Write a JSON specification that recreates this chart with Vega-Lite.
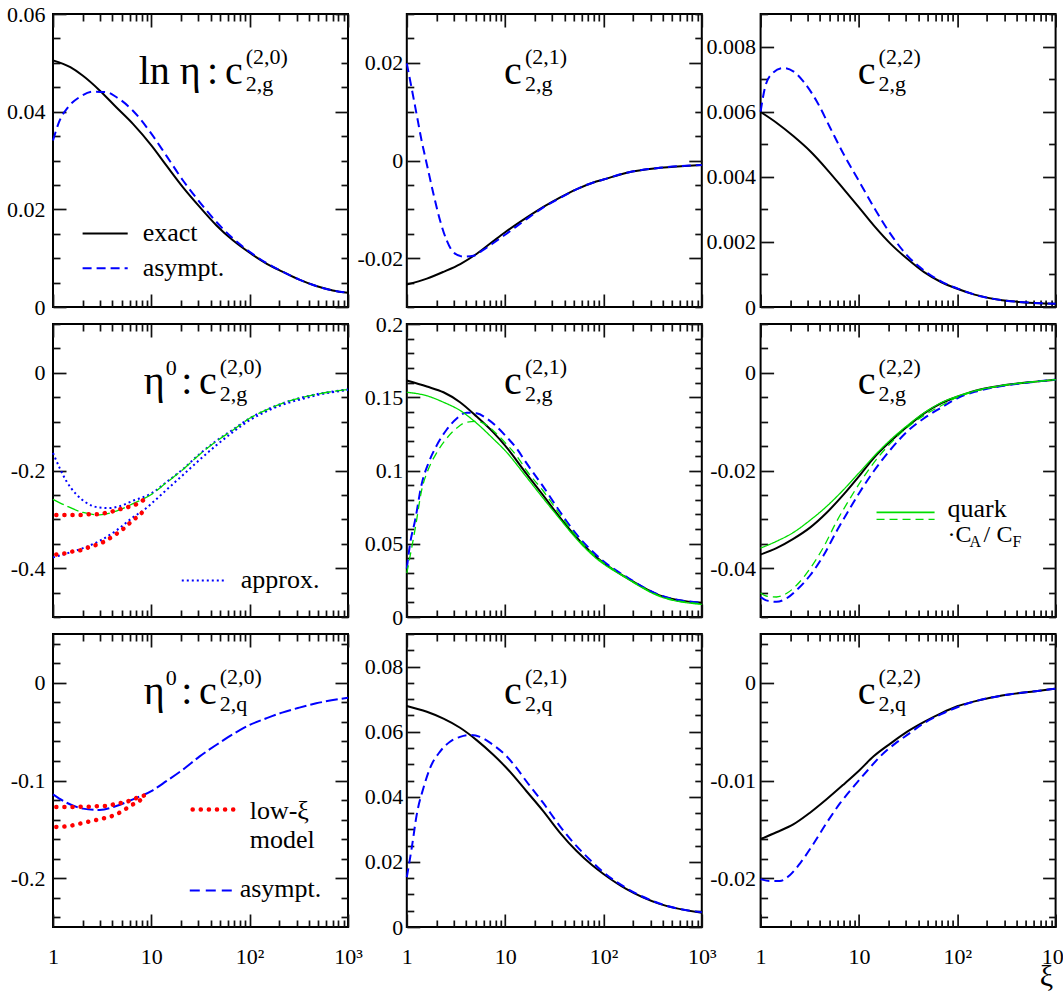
{
  "$schema": "https://vega.github.io/schema/vega-lite/v6.json",
  "usermeta": {"embedOptions": {"actions": false}},
  "background": "white",
  "padding": {"left": 5, "top": 2, "right": 0, "bottom": 0},
  "columns": 3,
  "bounds": "flush",
  "spacing": {"row": 17, "column": 58.8},
  "config": {
    "view": {"stroke": "black", "strokeWidth": 2},
    "axis": {"domain": false, "grid": false, "labelFont": "Liberation Serif", "labelFontSize": 22, "labelColor": "black", "labelOverlap": false, "labelFlush": false, "titleFont": "Liberation Serif", "titleFontWeight": "normal", "titleColor": "black"},
    "text": {"font": "Liberation Serif", "color": "black", "baseline": "alphabetic"},
    "line": {"interpolate": "monotone", "clip": true}
  },
  "data": {"values": [
    {"panel":1,"curve":"exact","xi":1,"c":0.0505},{"panel":1,"curve":"exact","xi":1.5,"c":0.0491},{"panel":1,"curve":"exact","xi":2,"c":0.0474},{"panel":1,"curve":"exact","xi":3,"c":0.0443},{"panel":1,"curve":"exact","xi":4.4,"c":0.0409},{"panel":1,"curve":"exact","xi":6.5,"c":0.0375},{"panel":1,"curve":"exact","xi":10,"c":0.0331},{"panel":1,"curve":"exact","xi":14.2,"c":0.029},{"panel":1,"curve":"exact","xi":21,"c":0.0245},{"panel":1,"curve":"exact","xi":31,"c":0.0205},{"panel":1,"curve":"exact","xi":46,"c":0.0167},{"panel":1,"curve":"exact","xi":68,"c":0.0136},{"panel":1,"curve":"exact","xi":100,"c":0.0111},{"panel":1,"curve":"exact","xi":148,"c":0.0089},{"panel":1,"curve":"exact","xi":218,"c":0.0072},{"panel":1,"curve":"exact","xi":320,"c":0.0056},{"panel":1,"curve":"exact","xi":475,"c":0.0043},{"panel":1,"curve":"exact","xi":700,"c":0.0034},{"panel":1,"curve":"exact","xi":1000,"c":0.0029},
    {"panel":1,"curve":"asympt","xi":1,"c":0.0341},{"panel":1,"curve":"asympt","xi":1.17,"c":0.0382},{"panel":1,"curve":"asympt","xi":1.42,"c":0.0409},{"panel":1,"curve":"asympt","xi":1.87,"c":0.043},{"panel":1,"curve":"asympt","xi":2.55,"c":0.0441},{"panel":1,"curve":"asympt","xi":3.5,"c":0.044},{"panel":1,"curve":"asympt","xi":4.4,"c":0.043},{"panel":1,"curve":"asympt","xi":6.5,"c":0.0402},{"panel":1,"curve":"asympt","xi":10,"c":0.0355},{"panel":1,"curve":"asympt","xi":14.2,"c":0.031},{"panel":1,"curve":"asympt","xi":21,"c":0.0259},{"panel":1,"curve":"asympt","xi":31,"c":0.0215},{"panel":1,"curve":"asympt","xi":46,"c":0.0174},{"panel":1,"curve":"asympt","xi":68,"c":0.014},{"panel":1,"curve":"asympt","xi":100,"c":0.0113},{"panel":1,"curve":"asympt","xi":148,"c":0.009},{"panel":1,"curve":"asympt","xi":218,"c":0.0072},{"panel":1,"curve":"asympt","xi":320,"c":0.0056},{"panel":1,"curve":"asympt","xi":475,"c":0.0043},{"panel":1,"curve":"asympt","xi":700,"c":0.0034},{"panel":1,"curve":"asympt","xi":1000,"c":0.0029},

    {"panel":2,"curve":"exact","xi":1,"c":-0.0254},{"panel":2,"curve":"exact","xi":1.6,"c":-0.0242},{"panel":2,"curve":"exact","xi":2.36,"c":-0.0228},{"panel":2,"curve":"exact","xi":3.5,"c":-0.0212},{"panel":2,"curve":"exact","xi":5.15,"c":-0.0191},{"panel":2,"curve":"exact","xi":7.6,"c":-0.0165},{"panel":2,"curve":"exact","xi":10,"c":-0.0147},{"panel":2,"curve":"exact","xi":16.5,"c":-0.0117},{"panel":2,"curve":"exact","xi":24.5,"c":-0.0095},{"panel":2,"curve":"exact","xi":36,"c":-0.0076},{"panel":2,"curve":"exact","xi":53,"c":-0.0059},{"panel":2,"curve":"exact","xi":79,"c":-0.0045},{"panel":2,"curve":"exact","xi":100,"c":-0.0039},{"panel":2,"curve":"exact","xi":173,"c":-0.0025},{"panel":2,"curve":"exact","xi":375,"c":-0.0015},{"panel":2,"curve":"exact","xi":1000,"c":-0.0009},
    {"panel":2,"curve":"asympt","xi":1,"c":0.0199},{"panel":2,"curve":"asympt","xi":1.12,"c":0.0148},{"panel":2,"curve":"asympt","xi":1.26,"c":0.0094},{"panel":2,"curve":"asympt","xi":1.42,"c":0.0039},{"panel":2,"curve":"asympt","xi":1.6,"c":-0.0008},{"panel":2,"curve":"asympt","xi":1.87,"c":-0.0069},{"panel":2,"curve":"asympt","xi":2.18,"c":-0.0123},{"panel":2,"curve":"asympt","xi":2.55,"c":-0.0164},{"panel":2,"curve":"asympt","xi":2.98,"c":-0.0188},{"panel":2,"curve":"asympt","xi":3.77,"c":-0.0197},{"panel":2,"curve":"asympt","xi":4.77,"c":-0.0195},{"panel":2,"curve":"asympt","xi":6,"c":-0.0183},{"panel":2,"curve":"asympt","xi":7.6,"c":-0.0169},{"panel":2,"curve":"asympt","xi":10,"c":-0.0152},{"panel":2,"curve":"asympt","xi":16.5,"c":-0.012},{"panel":2,"curve":"asympt","xi":24.5,"c":-0.0096},{"panel":2,"curve":"asympt","xi":36,"c":-0.0077},{"panel":2,"curve":"asympt","xi":53,"c":-0.0059},{"panel":2,"curve":"asympt","xi":79,"c":-0.0045},{"panel":2,"curve":"asympt","xi":100,"c":-0.0039},{"panel":2,"curve":"asympt","xi":173,"c":-0.0025},{"panel":2,"curve":"asympt","xi":375,"c":-0.0015},{"panel":2,"curve":"asympt","xi":1000,"c":-0.0009},

    {"panel":3,"curve":"exact","xi":1,"c":0.00599},{"panel":3,"curve":"exact","xi":1.45,"c":0.00566},{"panel":3,"curve":"exact","xi":2.15,"c":0.00525},{"panel":3,"curve":"exact","xi":3.18,"c":0.00479},{"panel":3,"curve":"exact","xi":4.72,"c":0.00423},{"panel":3,"curve":"exact","xi":7,"c":0.00362},{"panel":3,"curve":"exact","xi":10,"c":0.00306},{"panel":3,"curve":"exact","xi":14.2,"c":0.0025},{"panel":3,"curve":"exact","xi":21,"c":0.00194},{"panel":3,"curve":"exact","xi":31,"c":0.00148},{"panel":3,"curve":"exact","xi":46,"c":0.00107},{"panel":3,"curve":"exact","xi":69,"c":0.00076},{"panel":3,"curve":"exact","xi":100,"c":0.00056},{"panel":3,"curve":"exact","xi":150,"c":0.00038},{"panel":3,"curve":"exact","xi":285,"c":0.00021},{"panel":3,"curve":"exact","xi":1000,"c":0.0001},
    {"panel":3,"curve":"asympt","xi":1,"c":0.006},{"panel":3,"curve":"asympt","xi":1.1,"c":0.0067},{"panel":3,"curve":"asympt","xi":1.29,"c":0.00715},{"panel":3,"curve":"asympt","xi":1.7,"c":0.00734},{"panel":3,"curve":"asympt","xi":2.15,"c":0.00724},{"panel":3,"curve":"asympt","xi":2.72,"c":0.00693},{"panel":3,"curve":"asympt","xi":3.72,"c":0.00632},{"panel":3,"curve":"asympt","xi":5.11,"c":0.0055},{"panel":3,"curve":"asympt","xi":7,"c":0.00469},{"panel":3,"curve":"asympt","xi":10,"c":0.00387},{"panel":3,"curve":"asympt","xi":14.2,"c":0.00306},{"panel":3,"curve":"asympt","xi":21,"c":0.00224},{"panel":3,"curve":"asympt","xi":31,"c":0.00158},{"panel":3,"curve":"asympt","xi":46,"c":0.00112},{"panel":3,"curve":"asympt","xi":69,"c":0.00078},{"panel":3,"curve":"asympt","xi":100,"c":0.00057},{"panel":3,"curve":"asympt","xi":150,"c":0.00038},{"panel":3,"curve":"asympt","xi":285,"c":0.00021},{"panel":3,"curve":"asympt","xi":1000,"c":0.0001},

    {"panel":4,"curve":"approx","xi":1,"c":-0.164},{"panel":4,"curve":"approx","xi":1.17,"c":-0.195},{"panel":4,"curve":"approx","xi":1.37,"c":-0.222},{"panel":4,"curve":"approx","xi":1.73,"c":-0.249},{"panel":4,"curve":"approx","xi":2.18,"c":-0.266},{"panel":4,"curve":"approx","xi":2.98,"c":-0.276},{"panel":4,"curve":"approx","xi":3.77,"c":-0.277},{"panel":4,"curve":"approx","xi":4.77,"c":-0.273},{"panel":4,"curve":"approx","xi":6.5,"c":-0.262},{"panel":4,"curve":"approx","xi":10,"c":-0.247},{"panel":4,"curve":"approx","xi":14.2,"c":-0.224},{"panel":4,"curve":"approx","xi":21,"c":-0.197},{"panel":4,"curve":"approx","xi":31,"c":-0.166},{"panel":4,"curve":"approx","xi":46,"c":-0.139},{"panel":4,"curve":"approx","xi":68,"c":-0.116},{"panel":4,"curve":"approx","xi":100,"c":-0.093},{"panel":4,"curve":"approx","xi":148,"c":-0.076},{"panel":4,"curve":"approx","xi":218,"c":-0.062},{"panel":4,"curve":"approx","xi":320,"c":-0.052},{"panel":4,"curve":"approx","xi":475,"c":-0.044},{"panel":4,"curve":"approx","xi":1000,"c":-0.034},
    {"panel":4,"curve":"approx2","xi":1,"c":-0.378},{"panel":4,"curve":"approx2","xi":1.37,"c":-0.37},{"panel":4,"curve":"approx2","xi":2.02,"c":-0.359},{"panel":4,"curve":"approx2","xi":2.98,"c":-0.344},{"panel":4,"curve":"approx2","xi":4.4,"c":-0.323},{"panel":4,"curve":"approx2","xi":6.5,"c":-0.296},{"panel":4,"curve":"approx2","xi":8.9,"c":-0.277},{"panel":4,"curve":"approx2","xi":10,"c":-0.268},{"panel":4,"curve":"approx2","xi":14.2,"c":-0.24},{"panel":4,"curve":"approx2","xi":21,"c":-0.209},{"panel":4,"curve":"approx2","xi":31,"c":-0.178},{"panel":4,"curve":"approx2","xi":46,"c":-0.148},{"panel":4,"curve":"approx2","xi":68,"c":-0.121},{"panel":4,"curve":"approx2","xi":100,"c":-0.097},{"panel":4,"curve":"approx2","xi":148,"c":-0.079},{"panel":4,"curve":"approx2","xi":218,"c":-0.065},{"panel":4,"curve":"approx2","xi":320,"c":-0.055},{"panel":4,"curve":"approx2","xi":475,"c":-0.046},{"panel":4,"curve":"approx2","xi":1000,"c":-0.035},
    {"panel":4,"curve":"quarkCAL","xi":1,"c":-0.259},{"panel":4,"curve":"quarkCAL","xi":1.37,"c":-0.2725},{"panel":4,"curve":"quarkCAL","xi":2.02,"c":-0.286},{"panel":4,"curve":"quarkCAL","xi":2.98,"c":-0.291},{"panel":4,"curve":"quarkCAL","xi":4.4,"c":-0.283},{"panel":4,"curve":"quarkCAL","xi":6.5,"c":-0.268},{"panel":4,"curve":"quarkCAL","xi":10,"c":-0.249},{"panel":4,"curve":"quarkCAL","xi":14.2,"c":-0.225},{"panel":4,"curve":"quarkCAL","xi":21,"c":-0.198},{"panel":4,"curve":"quarkCAL","xi":31,"c":-0.167},{"panel":4,"curve":"quarkCAL","xi":46,"c":-0.14},{"panel":4,"curve":"quarkCAL","xi":68,"c":-0.117},{"panel":4,"curve":"quarkCAL","xi":100,"c":-0.093},{"panel":4,"curve":"quarkCAL","xi":148,"c":-0.076},{"panel":4,"curve":"quarkCAL","xi":218,"c":-0.062},{"panel":4,"curve":"quarkCAL","xi":320,"c":-0.052},{"panel":4,"curve":"quarkCAL","xi":475,"c":-0.044},{"panel":4,"curve":"quarkCAL","xi":1000,"c":-0.034},
    {"panel":4,"curve":"model","xi":1.08,"c":-0.291},{"panel":4,"curve":"model","xi":1.34,"c":-0.291},{"panel":4,"curve":"model","xi":1.62,"c":-0.291},{"panel":4,"curve":"model","xi":1.97,"c":-0.291},{"panel":4,"curve":"model","xi":2.4,"c":-0.2895},{"panel":4,"curve":"model","xi":2.94,"c":-0.2895},{"panel":4,"curve":"model","xi":3.54,"c":-0.286},{"panel":4,"curve":"model","xi":4.24,"c":-0.2827},{"panel":4,"curve":"model","xi":5.15,"c":-0.2773},{"panel":4,"curve":"model","xi":6.4,"c":-0.2725},{"panel":4,"curve":"model","xi":7.6,"c":-0.2658},{"panel":4,"curve":"model","xi":8.9,"c":-0.2556},
    {"panel":4,"curve":"model2","xi":1.08,"c":-0.372},{"panel":4,"curve":"model2","xi":1.34,"c":-0.3695},{"panel":4,"curve":"model2","xi":1.62,"c":-0.3654},{"panel":4,"curve":"model2","xi":1.97,"c":-0.3627},{"panel":4,"curve":"model2","xi":2.4,"c":-0.356},{"panel":4,"curve":"model2","xi":2.94,"c":-0.3505},{"panel":4,"curve":"model2","xi":3.54,"c":-0.3424},{"panel":4,"curve":"model2","xi":4.24,"c":-0.332},{"panel":4,"curve":"model2","xi":5.15,"c":-0.32},{"panel":4,"curve":"model2","xi":6.4,"c":-0.303},{"panel":4,"curve":"model2","xi":7.6,"c":-0.291},{"panel":4,"curve":"model2","xi":8.9,"c":-0.277},

    {"panel":5,"curve":"exact","xi":1,"c":0.1614},{"panel":5,"curve":"exact","xi":1.6,"c":0.1573},{"panel":5,"curve":"exact","xi":2.36,"c":0.1534},{"panel":5,"curve":"exact","xi":3.48,"c":0.1466},{"panel":5,"curve":"exact","xi":5.13,"c":0.1368},{"panel":5,"curve":"exact","xi":7.58,"c":0.126},{"panel":5,"curve":"exact","xi":10,"c":0.117},{"panel":5,"curve":"exact","xi":16.5,"c":0.0977},{"panel":5,"curve":"exact","xi":24.4,"c":0.083},{"panel":5,"curve":"exact","xi":36,"c":0.068},{"panel":5,"curve":"exact","xi":53,"c":0.0545},{"panel":5,"curve":"exact","xi":78,"c":0.043},{"panel":5,"curve":"exact","xi":100,"c":0.037},{"panel":5,"curve":"exact","xi":170,"c":0.027},{"panel":5,"curve":"exact","xi":372,"c":0.0148},{"panel":5,"curve":"exact","xi":1000,"c":0.0095},
    {"panel":5,"curve":"asympt","xi":1,"c":0.033},{"panel":5,"curve":"asympt","xi":1.08,"c":0.05},{"panel":5,"curve":"asympt","xi":1.215,"c":0.066},{"panel":5,"curve":"asympt","xi":1.42,"c":0.091},{"panel":5,"curve":"asympt","xi":1.66,"c":0.105},{"panel":5,"curve":"asympt","xi":2.01,"c":0.117},{"panel":5,"curve":"asympt","xi":2.55,"c":0.128},{"panel":5,"curve":"asympt","xi":3.22,"c":0.1355},{"panel":5,"curve":"asympt","xi":4.06,"c":0.1395},{"panel":5,"curve":"asympt","xi":5.13,"c":0.139},{"panel":5,"curve":"asympt","xi":6.48,"c":0.1355},{"panel":5,"curve":"asympt","xi":8.18,"c":0.13},{"panel":5,"curve":"asympt","xi":10,"c":0.124},{"panel":5,"curve":"asympt","xi":13.1,"c":0.115},{"panel":5,"curve":"asympt","xi":16.5,"c":0.105},{"panel":5,"curve":"asympt","xi":24.4,"c":0.089},{"panel":5,"curve":"asympt","xi":36,"c":0.072},{"panel":5,"curve":"asympt","xi":53,"c":0.0565},{"panel":5,"curve":"asympt","xi":78,"c":0.0445},{"panel":5,"curve":"asympt","xi":100,"c":0.038},{"panel":5,"curve":"asympt","xi":170,"c":0.0275},{"panel":5,"curve":"asympt","xi":372,"c":0.015},{"panel":5,"curve":"asympt","xi":1000,"c":0.0097},
    {"panel":5,"curve":"quark","xi":1,"c":0.1534},{"panel":5,"curve":"quark","xi":1.6,"c":0.151},{"panel":5,"curve":"quark","xi":2.36,"c":0.1466},{"panel":5,"curve":"quark","xi":3.48,"c":0.141},{"panel":5,"curve":"quark","xi":5.13,"c":0.1323},{"panel":5,"curve":"quark","xi":7.58,"c":0.1216},{"panel":5,"curve":"quark","xi":10,"c":0.1136},{"panel":5,"curve":"quark","xi":16.5,"c":0.0955},{"panel":5,"curve":"quark","xi":24.4,"c":0.081},{"panel":5,"curve":"quark","xi":36,"c":0.067},{"panel":5,"curve":"quark","xi":53,"c":0.0534},{"panel":5,"curve":"quark","xi":78,"c":0.042},{"panel":5,"curve":"quark","xi":170,"c":0.0266},{"panel":5,"curve":"quark","xi":372,"c":0.0141},{"panel":5,"curve":"quark","xi":1000,"c":0.0086},
    {"panel":5,"curve":"quarkCA","xi":1,"c":0.03},{"panel":5,"curve":"quarkCA","xi":1.215,"c":0.06},{"panel":5,"curve":"quarkCA","xi":1.42,"c":0.087},{"panel":5,"curve":"quarkCA","xi":1.66,"c":0.101},{"panel":5,"curve":"quarkCA","xi":2.01,"c":0.112},{"panel":5,"curve":"quarkCA","xi":2.55,"c":0.122},{"panel":5,"curve":"quarkCA","xi":3.22,"c":0.129},{"panel":5,"curve":"quarkCA","xi":4.06,"c":0.133},{"panel":5,"curve":"quarkCA","xi":5.13,"c":0.1335},{"panel":5,"curve":"quarkCA","xi":6.48,"c":0.131},{"panel":5,"curve":"quarkCA","xi":8.18,"c":0.125},{"panel":5,"curve":"quarkCA","xi":10,"c":0.119},{"panel":5,"curve":"quarkCA","xi":13.1,"c":0.11},{"panel":5,"curve":"quarkCA","xi":16.5,"c":0.1},{"panel":5,"curve":"quarkCA","xi":24.4,"c":0.086},{"panel":5,"curve":"quarkCA","xi":36,"c":0.07},{"panel":5,"curve":"quarkCA","xi":53,"c":0.055},{"panel":5,"curve":"quarkCA","xi":78,"c":0.043},{"panel":5,"curve":"quarkCA","xi":170,"c":0.027},{"panel":5,"curve":"quarkCA","xi":372,"c":0.0145},{"panel":5,"curve":"quarkCA","xi":1000,"c":0.009},

    {"panel":6,"curve":"exact","xi":1,"c":-0.0372},{"panel":6,"curve":"exact","xi":1.45,"c":-0.0359},{"panel":6,"curve":"exact","xi":2.15,"c":-0.034},{"panel":6,"curve":"exact","xi":3.18,"c":-0.0317},{"panel":6,"curve":"exact","xi":4.72,"c":-0.0286},{"panel":6,"curve":"exact","xi":7,"c":-0.0249},{"panel":6,"curve":"exact","xi":10,"c":-0.0212},{"panel":6,"curve":"exact","xi":14.2,"c":-0.0174},{"panel":6,"curve":"exact","xi":21,"c":-0.014},{"panel":6,"curve":"exact","xi":31,"c":-0.011},{"panel":6,"curve":"exact","xi":46,"c":-0.0083},{"panel":6,"curve":"exact","xi":69,"c":-0.0062},{"panel":6,"curve":"exact","xi":100,"c":-0.0049},{"panel":6,"curve":"exact","xi":150,"c":-0.0037},{"panel":6,"curve":"exact","xi":285,"c":-0.0026},{"panel":6,"curve":"exact","xi":625,"c":-0.0018},{"panel":6,"curve":"exact","xi":1000,"c":-0.0014},
    {"panel":6,"curve":"asympt","xi":1,"c":-0.0459},{"panel":6,"curve":"asympt","xi":1.14,"c":-0.0466},{"panel":6,"curve":"asympt","xi":1.45,"c":-0.0469},{"panel":6,"curve":"asympt","xi":1.83,"c":-0.0462},{"panel":6,"curve":"asympt","xi":2.32,"c":-0.0445},{"panel":6,"curve":"asympt","xi":3.18,"c":-0.0415},{"panel":6,"curve":"asympt","xi":4.36,"c":-0.0374},{"panel":6,"curve":"asympt","xi":5.98,"c":-0.0323},{"panel":6,"curve":"asympt","xi":8.19,"c":-0.0276},{"panel":6,"curve":"asympt","xi":10,"c":-0.0247},{"panel":6,"curve":"asympt","xi":14.2,"c":-0.0201},{"panel":6,"curve":"asympt","xi":21,"c":-0.0157},{"panel":6,"curve":"asympt","xi":31,"c":-0.012},{"panel":6,"curve":"asympt","xi":46,"c":-0.0093},{"panel":6,"curve":"asympt","xi":69,"c":-0.0071},{"panel":6,"curve":"asympt","xi":100,"c":-0.0052},{"panel":6,"curve":"asympt","xi":150,"c":-0.0039},{"panel":6,"curve":"asympt","xi":285,"c":-0.0027},{"panel":6,"curve":"asympt","xi":625,"c":-0.0018},{"panel":6,"curve":"asympt","xi":1000,"c":-0.0014},
    {"panel":6,"curve":"quark","xi":1,"c":-0.0359},{"panel":6,"curve":"quark","xi":1.45,"c":-0.0345},{"panel":6,"curve":"quark","xi":2.15,"c":-0.0327},{"panel":6,"curve":"quark","xi":3.18,"c":-0.0302},{"panel":6,"curve":"quark","xi":4.72,"c":-0.0273},{"panel":6,"curve":"quark","xi":7,"c":-0.0239},{"panel":6,"curve":"quark","xi":10,"c":-0.0205},{"panel":6,"curve":"quark","xi":14.2,"c":-0.0171},{"panel":6,"curve":"quark","xi":21,"c":-0.0137},{"panel":6,"curve":"quark","xi":31,"c":-0.0108},{"panel":6,"curve":"quark","xi":46,"c":-0.0082},{"panel":6,"curve":"quark","xi":69,"c":-0.0061},{"panel":6,"curve":"quark","xi":100,"c":-0.0048},{"panel":6,"curve":"quark","xi":150,"c":-0.0037},{"panel":6,"curve":"quark","xi":285,"c":-0.0026},{"panel":6,"curve":"quark","xi":625,"c":-0.0018},{"panel":6,"curve":"quark","xi":1000,"c":-0.0014},
    {"panel":6,"curve":"quarkCA","xi":1,"c":-0.0451},{"panel":6,"curve":"quarkCA","xi":1.14,"c":-0.0457},{"panel":6,"curve":"quarkCA","xi":1.45,"c":-0.0459},{"panel":6,"curve":"quarkCA","xi":1.83,"c":-0.0452},{"panel":6,"curve":"quarkCA","xi":2.32,"c":-0.0435},{"panel":6,"curve":"quarkCA","xi":3.18,"c":-0.0401},{"panel":6,"curve":"quarkCA","xi":4.36,"c":-0.0357},{"panel":6,"curve":"quarkCA","xi":5.98,"c":-0.0303},{"panel":6,"curve":"quarkCA","xi":8.19,"c":-0.0256},{"panel":6,"curve":"quarkCA","xi":10,"c":-0.0228},{"panel":6,"curve":"quarkCA","xi":14.2,"c":-0.0184},{"panel":6,"curve":"quarkCA","xi":21,"c":-0.0144},{"panel":6,"curve":"quarkCA","xi":31,"c":-0.0112},{"panel":6,"curve":"quarkCA","xi":46,"c":-0.0087},{"panel":6,"curve":"quarkCA","xi":69,"c":-0.0067},{"panel":6,"curve":"quarkCA","xi":100,"c":-0.005},{"panel":6,"curve":"quarkCA","xi":150,"c":-0.0038},{"panel":6,"curve":"quarkCA","xi":285,"c":-0.0026},{"panel":6,"curve":"quarkCA","xi":625,"c":-0.0018},{"panel":6,"curve":"quarkCA","xi":1000,"c":-0.0014},

    {"panel":7,"curve":"asymptL","xi":1,"c":-0.1142},{"panel":7,"curve":"asymptL","xi":1.37,"c":-0.1227},{"panel":7,"curve":"asymptL","xi":2.02,"c":-0.1288},{"panel":7,"curve":"asymptL","xi":2.98,"c":-0.1302},{"panel":7,"curve":"asymptL","xi":4.4,"c":-0.1261},{"panel":7,"curve":"asymptL","xi":6.5,"c":-0.1193},{"panel":7,"curve":"asymptL","xi":10,"c":-0.1108},{"panel":7,"curve":"asymptL","xi":14.2,"c":-0.1007},{"panel":7,"curve":"asymptL","xi":21,"c":-0.0888},{"panel":7,"curve":"asymptL","xi":31,"c":-0.0753},{"panel":7,"curve":"asymptL","xi":46,"c":-0.0634},{"panel":7,"curve":"asymptL","xi":68,"c":-0.0525},{"panel":7,"curve":"asymptL","xi":100,"c":-0.0431},{"panel":7,"curve":"asymptL","xi":148,"c":-0.0363},{"panel":7,"curve":"asymptL","xi":218,"c":-0.0302},{"panel":7,"curve":"asymptL","xi":320,"c":-0.0254},{"panel":7,"curve":"asymptL","xi":475,"c":-0.021},{"panel":7,"curve":"asymptL","xi":1000,"c":-0.0153},
    {"panel":7,"curve":"model","xi":1.08,"c":-0.1271},{"panel":7,"curve":"model","xi":1.34,"c":-0.1271},{"panel":7,"curve":"model","xi":1.62,"c":-0.1271},{"panel":7,"curve":"model","xi":1.97,"c":-0.1268},{"panel":7,"curve":"model","xi":2.4,"c":-0.1268},{"panel":7,"curve":"model","xi":2.98,"c":-0.1261},{"panel":7,"curve":"model","xi":3.62,"c":-0.1261},{"panel":7,"curve":"model","xi":4.34,"c":-0.1237},{"panel":7,"curve":"model","xi":5.22,"c":-0.1227},{"panel":7,"curve":"model","xi":6.26,"c":-0.12},{"panel":7,"curve":"model","xi":7.5,"c":-0.117},{"panel":7,"curve":"model","xi":8.55,"c":-0.1153},
    {"panel":7,"curve":"model2","xi":1.08,"c":-0.1475},{"panel":7,"curve":"model2","xi":1.34,"c":-0.1471},{"panel":7,"curve":"model2","xi":1.62,"c":-0.1457},{"panel":7,"curve":"model2","xi":1.97,"c":-0.1437},{"panel":7,"curve":"model2","xi":2.4,"c":-0.1417},{"panel":7,"curve":"model2","xi":2.98,"c":-0.1396},{"panel":7,"curve":"model2","xi":3.62,"c":-0.1376},{"panel":7,"curve":"model2","xi":4.34,"c":-0.1349},{"panel":7,"curve":"model2","xi":5.22,"c":-0.1305},{"panel":7,"curve":"model2","xi":6.26,"c":-0.1254},{"panel":7,"curve":"model2","xi":7.5,"c":-0.121},{"panel":7,"curve":"model2","xi":8.55,"c":-0.1165},

    {"panel":8,"curve":"exact","xi":1,"c":0.0679},{"panel":8,"curve":"exact","xi":1.6,"c":0.0661},{"panel":8,"curve":"exact","xi":2.36,"c":0.064},{"panel":8,"curve":"exact","xi":3.48,"c":0.0612},{"panel":8,"curve":"exact","xi":5.13,"c":0.0574},{"panel":8,"curve":"exact","xi":7.58,"c":0.0529},{"panel":8,"curve":"exact","xi":10,"c":0.0493},{"panel":8,"curve":"exact","xi":16.5,"c":0.0417},{"panel":8,"curve":"exact","xi":24.4,"c":0.0356},{"panel":8,"curve":"exact","xi":36,"c":0.029},{"panel":8,"curve":"exact","xi":53,"c":0.0234},{"panel":8,"curve":"exact","xi":78,"c":0.0188},{"panel":8,"curve":"exact","xi":100,"c":0.0163},{"panel":8,"curve":"exact","xi":170,"c":0.0117},{"panel":8,"curve":"exact","xi":372,"c":0.0071},{"panel":8,"curve":"exact","xi":1000,"c":0.0044},
    {"panel":8,"curve":"asympt","xi":1,"c":0.0153},{"panel":8,"curve":"asympt","xi":1.124,"c":0.0244},{"panel":8,"curve":"asympt","xi":1.263,"c":0.0346},{"panel":8,"curve":"asympt","xi":1.476,"c":0.0427},{"panel":8,"curve":"asympt","xi":1.723,"c":0.0488},{"panel":8,"curve":"asympt","xi":2.178,"c":0.0539},{"panel":8,"curve":"asympt","xi":2.75,"c":0.0569},{"panel":8,"curve":"asympt","xi":3.48,"c":0.0584},{"panel":8,"curve":"asympt","xi":4.39,"c":0.059},{"panel":8,"curve":"asympt","xi":5.55,"c":0.0584},{"panel":8,"curve":"asympt","xi":7.58,"c":0.0559},{"panel":8,"curve":"asympt","xi":10,"c":0.0529},{"panel":8,"curve":"asympt","xi":13.1,"c":0.0488},{"panel":8,"curve":"asympt","xi":16.5,"c":0.0447},{"panel":8,"curve":"asympt","xi":24.4,"c":0.0381},{"panel":8,"curve":"asympt","xi":36,"c":0.031},{"panel":8,"curve":"asympt","xi":53,"c":0.0249},{"panel":8,"curve":"asympt","xi":78,"c":0.0198},{"panel":8,"curve":"asympt","xi":100,"c":0.0168},{"panel":8,"curve":"asympt","xi":170,"c":0.012},{"panel":8,"curve":"asympt","xi":372,"c":0.0072},{"panel":8,"curve":"asympt","xi":1000,"c":0.0045},

    {"panel":9,"curve":"exact","xi":1,"c":-0.016},{"panel":9,"curve":"exact","xi":1.45,"c":-0.0153},{"panel":9,"curve":"exact","xi":2.15,"c":-0.0145},{"panel":9,"curve":"exact","xi":3.18,"c":-0.0133},{"panel":9,"curve":"exact","xi":4.72,"c":-0.0119},{"panel":9,"curve":"exact","xi":7,"c":-0.0104},{"panel":9,"curve":"exact","xi":10,"c":-0.009},{"panel":9,"curve":"exact","xi":14.2,"c":-0.0075},{"panel":9,"curve":"exact","xi":21,"c":-0.0062},{"panel":9,"curve":"exact","xi":31,"c":-0.005},{"panel":9,"curve":"exact","xi":46,"c":-0.004},{"panel":9,"curve":"exact","xi":69,"c":-0.0031},{"panel":9,"curve":"exact","xi":100,"c":-0.0024},{"panel":9,"curve":"exact","xi":150,"c":-0.0019},{"panel":9,"curve":"exact","xi":285,"c":-0.0013},{"panel":9,"curve":"exact","xi":625,"c":-0.00085},{"panel":9,"curve":"exact","xi":1000,"c":-0.0006},
    {"panel":9,"curve":"asympt","xi":1,"c":-0.0201},{"panel":9,"curve":"asympt","xi":1.24,"c":-0.0203},{"panel":9,"curve":"asympt","xi":1.57,"c":-0.0203},{"panel":9,"curve":"asympt","xi":1.98,"c":-0.0197},{"panel":9,"curve":"asympt","xi":2.51,"c":-0.0185},{"panel":9,"curve":"asympt","xi":3.44,"c":-0.0165},{"panel":9,"curve":"asympt","xi":4.72,"c":-0.0143},{"panel":9,"curve":"asympt","xi":6.46,"c":-0.0123},{"panel":9,"curve":"asympt","xi":8.86,"c":-0.0106},{"panel":9,"curve":"asympt","xi":12.15,"c":-0.009},{"panel":9,"curve":"asympt","xi":16.6,"c":-0.0075},{"panel":9,"curve":"asympt","xi":22.8,"c":-0.0063},{"panel":9,"curve":"asympt","xi":31.3,"c":-0.0053},{"panel":9,"curve":"asympt","xi":46.4,"c":-0.0041},{"panel":9,"curve":"asympt","xi":68.8,"c":-0.0032},{"panel":9,"curve":"asympt","xi":100,"c":-0.0025},{"panel":9,"curve":"asympt","xi":150,"c":-0.0019},{"panel":9,"curve":"asympt","xi":285,"c":-0.0013},{"panel":9,"curve":"asympt","xi":625,"c":-0.00085},{"panel":9,"curve":"asympt","xi":1000,"c":-0.0006}
  ]},
  "concat": [
    {
      "width": 295, "height": 293,
      "transform": [{"filter": "datum.panel == 1"}],
      "layer": [
        {"mark": {"type": "line", "color": "#000000", "strokeWidth": 2}, "transform": [{"filter": "datum.curve == 'exact'"}],
         "encoding": {
           "x": {"field": "xi", "type": "quantitative", "scale": {"type": "log", "domain": [1, 1000]}, "axis": {"orient": "bottom", "title": null, "labels": false, "values": [1,10,100,1000], "tickSize": 13, "offset": -13, "tickColor": "#111111", "tickWidth": 1.7}},
           "y": {"field": "c", "type": "quantitative", "scale": {"domain": [0, 0.06], "nice": false, "zero": false}, "axis": {"orient": "left", "title": null, "values": [0,0.02,0.04,0.06], "tickSize": 13, "offset": -13, "tickColor": "#111111", "tickWidth": 1.7, "labelPadding": 8, "labelExpr": "(datum.value < 0 ? '-' : '') + format(abs(datum.value), '~g')"}}}},
        {"mark": {"type": "line", "color": "#0000ff", "strokeWidth": 2}, "transform": [{"filter": "indexof(['asympt','asymptL','approx','approx2'], datum.curve) >= 0"}],
         "encoding": {
           "x": {"field": "xi", "type": "quantitative", "scale": {"type": "log", "domain": [1, 1000]}, "axis": {"orient": "bottom", "title": null, "labels": false, "values": [2,3,4,5,6,7,8,9,20,30,40,50,60,70,80,90,200,300,400,500,600,700,800,900], "tickSize": 7, "offset": -7, "tickColor": "#111111", "tickWidth": 1.7}},
           "y": {"field": "c", "type": "quantitative", "scale": {"domain": [0, 0.06], "nice": false, "zero": false}, "axis": {"orient": "left", "title": null, "labels": false, "values": [0.005,0.01,0.015,0.025,0.03,0.035,0.045,0.05,0.055], "tickSize": 7, "offset": -7, "tickColor": "#111111", "tickWidth": 1.7}},
           "strokeDash": {"field": "curve", "type": "nominal", "legend": null, "scale": {"domain": ["asympt","asymptL","approx","approx2","quark","quarkCA","quarkCAL"], "range": [[9,5],[12,4],[2,3],[2,3],[1,0],[8,5],[12,4]]}}}},
        {"mark": {"type": "line", "color": "#00dd00", "strokeWidth": 1.3}, "transform": [{"filter": "indexof(['quark','quarkCA','quarkCAL'], datum.curve) >= 0"}],
         "encoding": {
           "x": {"field": "xi", "type": "quantitative", "scale": {"type": "log", "domain": [1, 1000]}, "axis": {"orient": "top", "title": null, "labels": false, "values": [1,10,100,1000], "tickSize": 13, "offset": -13, "tickColor": "#111111", "tickWidth": 1.7}},
           "y": {"field": "c", "type": "quantitative", "scale": {"domain": [0, 0.06], "nice": false, "zero": false}, "axis": {"orient": "right", "title": null, "labels": false, "values": [0,0.02,0.04,0.06], "tickSize": 13, "offset": -13, "tickColor": "#111111", "tickWidth": 1.7}},
           "strokeDash": {"field": "curve", "type": "nominal", "legend": null, "scale": {"domain": ["asympt","asymptL","approx","approx2","quark","quarkCA","quarkCAL"], "range": [[9,5],[12,4],[2,3],[2,3],[1,0],[8,5],[12,4]]}}}},
        {"mark": {"type": "line", "color": "#ff0000", "strokeWidth": 4.5, "strokeCap": "round", "strokeDash": [0.1, 8]}, "transform": [{"filter": "datum.curve == 'model' || datum.curve == 'model2'"}],
         "encoding": {
           "x": {"field": "xi", "type": "quantitative", "scale": {"type": "log", "domain": [1, 1000]}, "axis": {"orient": "top", "title": null, "labels": false, "values": [2,3,4,5,6,7,8,9,20,30,40,50,60,70,80,90,200,300,400,500,600,700,800,900], "tickSize": 7, "offset": -7, "tickColor": "#111111", "tickWidth": 1.7}},
           "y": {"field": "c", "type": "quantitative", "scale": {"domain": [0, 0.06], "nice": false, "zero": false}, "axis": {"orient": "right", "title": null, "labels": false, "values": [0.005,0.01,0.015,0.025,0.03,0.035,0.045,0.05,0.055], "tickSize": 7, "offset": -7, "tickColor": "#111111", "tickWidth": 1.7}},
           "detail": {"field": "curve", "type": "nominal"}}},
        {"data": {"values": [{}]}, "mark": {"type": "text", "fontSize": 40, "align": "right", "text": "c"}, "encoding": {"x": {"datum": 84.9, "type": "quantitative", "axis": null}, "y": {"datum": 0.04574, "type": "quantitative", "axis": null}}},
        {"data": {"values": [{}]}, "mark": {"type": "text", "fontSize": 40, "align": "center", "dx": -30, "text": ":"}, "encoding": {"x": {"datum": 84.9, "type": "quantitative", "axis": null}, "y": {"datum": 0.04574, "type": "quantitative", "axis": null}}},
        {"data": {"values": [{}]}, "mark": {"type": "text", "fontSize": 40, "align": "right", "dx": -42, "text": "ln η"}, "encoding": {"x": {"datum": 84.9, "type": "quantitative", "axis": null}, "y": {"datum": 0.04574, "type": "quantitative", "axis": null}}},
        {"data": {"values": [{}]}, "mark": {"type": "text", "fontSize": 22, "align": "left", "dx": 3, "dy": -20, "text": "(2,0)"}, "encoding": {"x": {"datum": 84.9, "type": "quantitative", "axis": null}, "y": {"datum": 0.04574, "type": "quantitative", "axis": null}}},
        {"data": {"values": [{}]}, "mark": {"type": "text", "fontSize": 22, "align": "left", "dx": 3, "dy": 7, "text": "2,g"}, "encoding": {"x": {"datum": 84.9, "type": "quantitative", "axis": null}, "y": {"datum": 0.04574, "type": "quantitative", "axis": null}}},
        {"data": {"values": [{}]}, "mark": {"type": "rule", "color": "#000000", "strokeWidth": 2}, "encoding": {"x": {"datum": 2.0, "type": "quantitative", "axis": null}, "x2": {"datum": 5.75}, "y": {"datum": 0.01507, "type": "quantitative", "axis": null}}},
        {"data": {"values": [{}]}, "mark": {"type": "text", "fontSize": 26, "align": "left", "dy": 8, "text": "exact"}, "encoding": {"x": {"datum": 8.17, "type": "quantitative", "axis": null}, "y": {"datum": 0.01507, "type": "quantitative", "axis": null}}},
        {"data": {"values": [{}]}, "mark": {"type": "rule", "color": "#0000ff", "strokeWidth": 2, "strokeDash": [9, 5]}, "encoding": {"x": {"datum": 2.0, "type": "quantitative", "axis": null}, "x2": {"datum": 5.75}, "y": {"datum": 0.00791, "type": "quantitative", "axis": null}}},
        {"data": {"values": [{}]}, "mark": {"type": "text", "fontSize": 26, "align": "left", "dy": 8, "text": "asympt."}, "encoding": {"x": {"datum": 8.17, "type": "quantitative", "axis": null}, "y": {"datum": 0.00791, "type": "quantitative", "axis": null}}}
      ],
      "resolve": {"axis": {"x": "independent", "y": "independent"}}
    },
    {
      "width": 295, "height": 293,
      "transform": [{"filter": "datum.panel == 2"}],
      "layer": [
        {"mark": {"type": "line", "color": "#000000", "strokeWidth": 2}, "transform": [{"filter": "datum.curve == 'exact'"}],
         "encoding": {
           "x": {"field": "xi", "type": "quantitative", "scale": {"type": "log", "domain": [1, 1000]}, "axis": {"orient": "bottom", "title": null, "labels": false, "values": [1,10,100,1000], "tickSize": 13, "offset": -13, "tickColor": "#111111", "tickWidth": 1.7}},
           "y": {"field": "c", "type": "quantitative", "scale": {"domain": [-0.03, 0.03], "nice": false, "zero": false}, "axis": {"orient": "left", "title": null, "values": [-0.02,0,0.02], "tickSize": 13, "offset": -13, "tickColor": "#111111", "tickWidth": 1.7, "labelPadding": 4, "labelExpr": "(datum.value < 0 ? '-' : '') + format(abs(datum.value), '~g')"}}}},
        {"mark": {"type": "line", "color": "#0000ff", "strokeWidth": 2}, "transform": [{"filter": "indexof(['asympt','asymptL','approx','approx2'], datum.curve) >= 0"}],
         "encoding": {
           "x": {"field": "xi", "type": "quantitative", "scale": {"type": "log", "domain": [1, 1000]}, "axis": {"orient": "bottom", "title": null, "labels": false, "values": [2,3,4,5,6,7,8,9,20,30,40,50,60,70,80,90,200,300,400,500,600,700,800,900], "tickSize": 7, "offset": -7, "tickColor": "#111111", "tickWidth": 1.7}},
           "y": {"field": "c", "type": "quantitative", "scale": {"domain": [-0.03, 0.03], "nice": false, "zero": false}, "axis": {"orient": "left", "title": null, "labels": false, "values": [-0.03,-0.025,-0.015,-0.01,-0.005,0.005,0.01,0.015,0.025,0.03], "tickSize": 7, "offset": -7, "tickColor": "#111111", "tickWidth": 1.7}},
           "strokeDash": {"field": "curve", "type": "nominal", "legend": null, "scale": {"domain": ["asympt","asymptL","approx","approx2","quark","quarkCA","quarkCAL"], "range": [[9,5],[12,4],[2,3],[2,3],[1,0],[8,5],[12,4]]}}}},
        {"mark": {"type": "line", "color": "#00dd00", "strokeWidth": 1.3}, "transform": [{"filter": "indexof(['quark','quarkCA','quarkCAL'], datum.curve) >= 0"}],
         "encoding": {
           "x": {"field": "xi", "type": "quantitative", "scale": {"type": "log", "domain": [1, 1000]}, "axis": {"orient": "top", "title": null, "labels": false, "values": [1,10,100,1000], "tickSize": 13, "offset": -13, "tickColor": "#111111", "tickWidth": 1.7}},
           "y": {"field": "c", "type": "quantitative", "scale": {"domain": [-0.03, 0.03], "nice": false, "zero": false}, "axis": {"orient": "right", "title": null, "labels": false, "values": [-0.02,0,0.02], "tickSize": 13, "offset": -13, "tickColor": "#111111", "tickWidth": 1.7}},
           "strokeDash": {"field": "curve", "type": "nominal", "legend": null, "scale": {"domain": ["asympt","asymptL","approx","approx2","quark","quarkCA","quarkCAL"], "range": [[9,5],[12,4],[2,3],[2,3],[1,0],[8,5],[12,4]]}}}},
        {"mark": {"type": "line", "color": "#ff0000", "strokeWidth": 4.5, "strokeCap": "round", "strokeDash": [0.1, 8]}, "transform": [{"filter": "datum.curve == 'model' || datum.curve == 'model2'"}],
         "encoding": {
           "x": {"field": "xi", "type": "quantitative", "scale": {"type": "log", "domain": [1, 1000]}, "axis": {"orient": "top", "title": null, "labels": false, "values": [2,3,4,5,6,7,8,9,20,30,40,50,60,70,80,90,200,300,400,500,600,700,800,900], "tickSize": 7, "offset": -7, "tickColor": "#111111", "tickWidth": 1.7}},
           "y": {"field": "c", "type": "quantitative", "scale": {"domain": [-0.03, 0.03], "nice": false, "zero": false}, "axis": {"orient": "right", "title": null, "labels": false, "values": [-0.03,-0.025,-0.015,-0.01,-0.005,0.005,0.01,0.015,0.025,0.03], "tickSize": 7, "offset": -7, "tickColor": "#111111", "tickWidth": 1.7}},
           "detail": {"field": "curve", "type": "nominal"}}},
        {"data": {"values": [{}]}, "mark": {"type": "text", "fontSize": 40, "align": "right", "text": "c"}, "encoding": {"x": {"datum": 14.8, "type": "quantitative", "axis": null}, "y": {"datum": 0.01574, "type": "quantitative", "axis": null}}},
        {"data": {"values": [{}]}, "mark": {"type": "text", "fontSize": 22, "align": "left", "dx": 3, "dy": -20, "text": "(2,1)"}, "encoding": {"x": {"datum": 14.8, "type": "quantitative", "axis": null}, "y": {"datum": 0.01574, "type": "quantitative", "axis": null}}},
        {"data": {"values": [{}]}, "mark": {"type": "text", "fontSize": 22, "align": "left", "dx": 3, "dy": 7, "text": "2,g"}, "encoding": {"x": {"datum": 14.8, "type": "quantitative", "axis": null}, "y": {"datum": 0.01574, "type": "quantitative", "axis": null}}}
      ],
      "resolve": {"axis": {"x": "independent", "y": "independent"}}
    },
    {
      "width": 295, "height": 293,
      "transform": [{"filter": "datum.panel == 3"}],
      "layer": [
        {"mark": {"type": "line", "color": "#000000", "strokeWidth": 2}, "transform": [{"filter": "datum.curve == 'exact'"}],
         "encoding": {
           "x": {"field": "xi", "type": "quantitative", "scale": {"type": "log", "domain": [1, 1000]}, "axis": {"orient": "bottom", "title": null, "labels": false, "values": [1,10,100,1000], "tickSize": 13, "offset": -13, "tickColor": "#111111", "tickWidth": 1.7}},
           "y": {"field": "c", "type": "quantitative", "scale": {"domain": [0, 0.009], "nice": false, "zero": false}, "axis": {"orient": "left", "title": null, "values": [0,0.002,0.004,0.006,0.008], "tickSize": 13, "offset": -13, "tickColor": "#111111", "tickWidth": 1.7, "labelPadding": 5, "labelExpr": "(datum.value < 0 ? '-' : '') + format(abs(datum.value), '~g')"}}}},
        {"mark": {"type": "line", "color": "#0000ff", "strokeWidth": 2}, "transform": [{"filter": "indexof(['asympt','asymptL','approx','approx2'], datum.curve) >= 0"}],
         "encoding": {
           "x": {"field": "xi", "type": "quantitative", "scale": {"type": "log", "domain": [1, 1000]}, "axis": {"orient": "bottom", "title": null, "labels": false, "values": [2,3,4,5,6,7,8,9,20,30,40,50,60,70,80,90,200,300,400,500,600,700,800,900], "tickSize": 7, "offset": -7, "tickColor": "#111111", "tickWidth": 1.7}},
           "y": {"field": "c", "type": "quantitative", "scale": {"domain": [0, 0.009], "nice": false, "zero": false}, "axis": {"orient": "left", "title": null, "labels": false, "values": [0.001,0.003,0.005,0.007,0.009], "tickSize": 7, "offset": -7, "tickColor": "#111111", "tickWidth": 1.7}},
           "strokeDash": {"field": "curve", "type": "nominal", "legend": null, "scale": {"domain": ["asympt","asymptL","approx","approx2","quark","quarkCA","quarkCAL"], "range": [[9,5],[12,4],[2,3],[2,3],[1,0],[8,5],[12,4]]}}}},
        {"mark": {"type": "line", "color": "#00dd00", "strokeWidth": 1.3}, "transform": [{"filter": "indexof(['quark','quarkCA','quarkCAL'], datum.curve) >= 0"}],
         "encoding": {
           "x": {"field": "xi", "type": "quantitative", "scale": {"type": "log", "domain": [1, 1000]}, "axis": {"orient": "top", "title": null, "labels": false, "values": [1,10,100,1000], "tickSize": 13, "offset": -13, "tickColor": "#111111", "tickWidth": 1.7}},
           "y": {"field": "c", "type": "quantitative", "scale": {"domain": [0, 0.009], "nice": false, "zero": false}, "axis": {"orient": "right", "title": null, "labels": false, "values": [0,0.002,0.004,0.006,0.008], "tickSize": 13, "offset": -13, "tickColor": "#111111", "tickWidth": 1.7}},
           "strokeDash": {"field": "curve", "type": "nominal", "legend": null, "scale": {"domain": ["asympt","asymptL","approx","approx2","quark","quarkCA","quarkCAL"], "range": [[9,5],[12,4],[2,3],[2,3],[1,0],[8,5],[12,4]]}}}},
        {"mark": {"type": "line", "color": "#ff0000", "strokeWidth": 4.5, "strokeCap": "round", "strokeDash": [0.1, 8]}, "transform": [{"filter": "datum.curve == 'model' || datum.curve == 'model2'"}],
         "encoding": {
           "x": {"field": "xi", "type": "quantitative", "scale": {"type": "log", "domain": [1, 1000]}, "axis": {"orient": "top", "title": null, "labels": false, "values": [2,3,4,5,6,7,8,9,20,30,40,50,60,70,80,90,200,300,400,500,600,700,800,900], "tickSize": 7, "offset": -7, "tickColor": "#111111", "tickWidth": 1.7}},
           "y": {"field": "c", "type": "quantitative", "scale": {"domain": [0, 0.009], "nice": false, "zero": false}, "axis": {"orient": "right", "title": null, "labels": false, "values": [0.001,0.003,0.005,0.007,0.009], "tickSize": 7, "offset": -7, "tickColor": "#111111", "tickWidth": 1.7}},
           "detail": {"field": "curve", "type": "nominal"}}},
        {"data": {"values": [{}]}, "mark": {"type": "text", "fontSize": 40, "align": "right", "text": "c"}, "encoding": {"x": {"datum": 14.78, "type": "quantitative", "axis": null}, "y": {"datum": 0.00686, "type": "quantitative", "axis": null}}},
        {"data": {"values": [{}]}, "mark": {"type": "text", "fontSize": 22, "align": "left", "dx": 3, "dy": -20, "text": "(2,2)"}, "encoding": {"x": {"datum": 14.78, "type": "quantitative", "axis": null}, "y": {"datum": 0.00686, "type": "quantitative", "axis": null}}},
        {"data": {"values": [{}]}, "mark": {"type": "text", "fontSize": 22, "align": "left", "dx": 3, "dy": 7, "text": "2,g"}, "encoding": {"x": {"datum": 14.78, "type": "quantitative", "axis": null}, "y": {"datum": 0.00686, "type": "quantitative", "axis": null}}}
      ],
      "resolve": {"axis": {"x": "independent", "y": "independent"}}
    },
    {
      "width": 295, "height": 293,
      "transform": [{"filter": "datum.panel == 4"}],
      "layer": [
        {"mark": {"type": "line", "color": "#000000", "strokeWidth": 2}, "transform": [{"filter": "datum.curve == 'exact'"}],
         "encoding": {
           "x": {"field": "xi", "type": "quantitative", "scale": {"type": "log", "domain": [1, 1000]}, "axis": {"orient": "bottom", "title": null, "labels": false, "values": [1,10,100,1000], "tickSize": 13, "offset": -13, "tickColor": "#111111", "tickWidth": 1.7}},
           "y": {"field": "c", "type": "quantitative", "scale": {"domain": [-0.5, 0.1], "nice": false, "zero": false}, "axis": {"orient": "left", "title": null, "values": [-0.4,-0.2,0], "tickSize": 13, "offset": -13, "tickColor": "#111111", "tickWidth": 1.7, "labelPadding": 8, "labelExpr": "(datum.value < 0 ? '-' : '') + format(abs(datum.value), '~g')"}}}},
        {"mark": {"type": "line", "color": "#0000ff", "strokeWidth": 2}, "transform": [{"filter": "indexof(['asympt','asymptL','approx','approx2'], datum.curve) >= 0"}],
         "encoding": {
           "x": {"field": "xi", "type": "quantitative", "scale": {"type": "log", "domain": [1, 1000]}, "axis": {"orient": "bottom", "title": null, "labels": false, "values": [2,3,4,5,6,7,8,9,20,30,40,50,60,70,80,90,200,300,400,500,600,700,800,900], "tickSize": 7, "offset": -7, "tickColor": "#111111", "tickWidth": 1.7}},
           "y": {"field": "c", "type": "quantitative", "scale": {"domain": [-0.5, 0.1], "nice": false, "zero": false}, "axis": {"orient": "left", "title": null, "labels": false, "values": [-0.5,-0.45,-0.35,-0.3,-0.25,-0.15,-0.1,-0.05,0.05,0.1], "tickSize": 7, "offset": -7, "tickColor": "#111111", "tickWidth": 1.7}},
           "strokeDash": {"field": "curve", "type": "nominal", "legend": null, "scale": {"domain": ["asympt","asymptL","approx","approx2","quark","quarkCA","quarkCAL"], "range": [[9,5],[12,4],[2,3],[2,3],[1,0],[8,5],[12,4]]}}}},
        {"mark": {"type": "line", "color": "#00dd00", "strokeWidth": 1.3}, "transform": [{"filter": "indexof(['quark','quarkCA','quarkCAL'], datum.curve) >= 0"}],
         "encoding": {
           "x": {"field": "xi", "type": "quantitative", "scale": {"type": "log", "domain": [1, 1000]}, "axis": {"orient": "top", "title": null, "labels": false, "values": [1,10,100,1000], "tickSize": 13, "offset": -13, "tickColor": "#111111", "tickWidth": 1.7}},
           "y": {"field": "c", "type": "quantitative", "scale": {"domain": [-0.5, 0.1], "nice": false, "zero": false}, "axis": {"orient": "right", "title": null, "labels": false, "values": [-0.4,-0.2,0], "tickSize": 13, "offset": -13, "tickColor": "#111111", "tickWidth": 1.7}},
           "strokeDash": {"field": "curve", "type": "nominal", "legend": null, "scale": {"domain": ["asympt","asymptL","approx","approx2","quark","quarkCA","quarkCAL"], "range": [[9,5],[12,4],[2,3],[2,3],[1,0],[8,5],[12,4]]}}}},
        {"mark": {"type": "line", "color": "#ff0000", "strokeWidth": 4.5, "strokeCap": "round", "strokeDash": [0.1, 8]}, "transform": [{"filter": "datum.curve == 'model' || datum.curve == 'model2'"}],
         "encoding": {
           "x": {"field": "xi", "type": "quantitative", "scale": {"type": "log", "domain": [1, 1000]}, "axis": {"orient": "top", "title": null, "labels": false, "values": [2,3,4,5,6,7,8,9,20,30,40,50,60,70,80,90,200,300,400,500,600,700,800,900], "tickSize": 7, "offset": -7, "tickColor": "#111111", "tickWidth": 1.7}},
           "y": {"field": "c", "type": "quantitative", "scale": {"domain": [-0.5, 0.1], "nice": false, "zero": false}, "axis": {"orient": "right", "title": null, "labels": false, "values": [-0.5,-0.45,-0.35,-0.3,-0.25,-0.15,-0.1,-0.05,0.05,0.1], "tickSize": 7, "offset": -7, "tickColor": "#111111", "tickWidth": 1.7}},
           "detail": {"field": "curve", "type": "nominal"}}},
        {"data": {"values": [{}]}, "mark": {"type": "text", "fontSize": 40, "align": "right", "text": "c"}, "encoding": {"x": {"datum": 46.2, "type": "quantitative", "axis": null}, "y": {"datum": -0.0426, "type": "quantitative", "axis": null}}},
        {"data": {"values": [{}]}, "mark": {"type": "text", "fontSize": 40, "align": "center", "dx": -30, "text": ":"}, "encoding": {"x": {"datum": 46.2, "type": "quantitative", "axis": null}, "y": {"datum": -0.0426, "type": "quantitative", "axis": null}}},
        {"data": {"values": [{}]}, "mark": {"type": "text", "fontSize": 22, "align": "left", "dx": -51, "dy": -19, "text": "0"}, "encoding": {"x": {"datum": 46.2, "type": "quantitative", "axis": null}, "y": {"datum": -0.0426, "type": "quantitative", "axis": null}}},
        {"data": {"values": [{}]}, "mark": {"type": "text", "fontSize": 40, "align": "right", "dx": -52, "text": "η"}, "encoding": {"x": {"datum": 46.2, "type": "quantitative", "axis": null}, "y": {"datum": -0.0426, "type": "quantitative", "axis": null}}},
        {"data": {"values": [{}]}, "mark": {"type": "text", "fontSize": 22, "align": "left", "dx": 3, "dy": -20, "text": "(2,0)"}, "encoding": {"x": {"datum": 46.2, "type": "quantitative", "axis": null}, "y": {"datum": -0.0426, "type": "quantitative", "axis": null}}},
        {"data": {"values": [{}]}, "mark": {"type": "text", "fontSize": 22, "align": "left", "dx": 3, "dy": 7, "text": "2,g"}, "encoding": {"x": {"datum": 46.2, "type": "quantitative", "axis": null}, "y": {"datum": -0.0426, "type": "quantitative", "axis": null}}},
        {"data": {"values": [{}]}, "mark": {"type": "rule", "color": "#0000ff", "strokeWidth": 2, "strokeDash": [2, 3]}, "encoding": {"x": {"datum": 20.4, "type": "quantitative", "axis": null}, "x2": {"datum": 58.4}, "y": {"datum": -0.425, "type": "quantitative", "axis": null}}},
        {"data": {"values": [{}]}, "mark": {"type": "text", "fontSize": 26, "align": "left", "dy": 8, "text": "approx."}, "encoding": {"x": {"datum": 81.1, "type": "quantitative", "axis": null}, "y": {"datum": -0.425, "type": "quantitative", "axis": null}}}
      ],
      "resolve": {"axis": {"x": "independent", "y": "independent"}}
    },
    {
      "width": 295, "height": 293,
      "transform": [{"filter": "datum.panel == 5"}],
      "layer": [
        {"mark": {"type": "line", "color": "#000000", "strokeWidth": 2}, "transform": [{"filter": "datum.curve == 'exact'"}],
         "encoding": {
           "x": {"field": "xi", "type": "quantitative", "scale": {"type": "log", "domain": [1, 1000]}, "axis": {"orient": "bottom", "title": null, "labels": false, "values": [1,10,100,1000], "tickSize": 13, "offset": -13, "tickColor": "#111111", "tickWidth": 1.7}},
           "y": {"field": "c", "type": "quantitative", "scale": {"domain": [0, 0.2], "nice": false, "zero": false}, "axis": {"orient": "left", "title": null, "values": [0,0.05,0.1,0.15,0.2], "tickSize": 13, "offset": -13, "tickColor": "#111111", "tickWidth": 1.7, "labelPadding": 4, "labelExpr": "(datum.value < 0 ? '-' : '') + format(abs(datum.value), '~g')"}}}},
        {"mark": {"type": "line", "color": "#0000ff", "strokeWidth": 2}, "transform": [{"filter": "indexof(['asympt','asymptL','approx','approx2'], datum.curve) >= 0"}],
         "encoding": {
           "x": {"field": "xi", "type": "quantitative", "scale": {"type": "log", "domain": [1, 1000]}, "axis": {"orient": "bottom", "title": null, "labels": false, "values": [2,3,4,5,6,7,8,9,20,30,40,50,60,70,80,90,200,300,400,500,600,700,800,900], "tickSize": 7, "offset": -7, "tickColor": "#111111", "tickWidth": 1.7}},
           "y": {"field": "c", "type": "quantitative", "scale": {"domain": [0, 0.2], "nice": false, "zero": false}, "axis": {"orient": "left", "title": null, "labels": false, "values": [0.01,0.02,0.03,0.04,0.06,0.07,0.08,0.09,0.11,0.12,0.13,0.14,0.16,0.17,0.18,0.19], "tickSize": 7, "offset": -7, "tickColor": "#111111", "tickWidth": 1.7}},
           "strokeDash": {"field": "curve", "type": "nominal", "legend": null, "scale": {"domain": ["asympt","asymptL","approx","approx2","quark","quarkCA","quarkCAL"], "range": [[9,5],[12,4],[2,3],[2,3],[1,0],[8,5],[12,4]]}}}},
        {"mark": {"type": "line", "color": "#00dd00", "strokeWidth": 1.3}, "transform": [{"filter": "indexof(['quark','quarkCA','quarkCAL'], datum.curve) >= 0"}],
         "encoding": {
           "x": {"field": "xi", "type": "quantitative", "scale": {"type": "log", "domain": [1, 1000]}, "axis": {"orient": "top", "title": null, "labels": false, "values": [1,10,100,1000], "tickSize": 13, "offset": -13, "tickColor": "#111111", "tickWidth": 1.7}},
           "y": {"field": "c", "type": "quantitative", "scale": {"domain": [0, 0.2], "nice": false, "zero": false}, "axis": {"orient": "right", "title": null, "labels": false, "values": [0,0.05,0.1,0.15,0.2], "tickSize": 13, "offset": -13, "tickColor": "#111111", "tickWidth": 1.7}},
           "strokeDash": {"field": "curve", "type": "nominal", "legend": null, "scale": {"domain": ["asympt","asymptL","approx","approx2","quark","quarkCA","quarkCAL"], "range": [[9,5],[12,4],[2,3],[2,3],[1,0],[8,5],[12,4]]}}}},
        {"mark": {"type": "line", "color": "#ff0000", "strokeWidth": 4.5, "strokeCap": "round", "strokeDash": [0.1, 8]}, "transform": [{"filter": "datum.curve == 'model' || datum.curve == 'model2'"}],
         "encoding": {
           "x": {"field": "xi", "type": "quantitative", "scale": {"type": "log", "domain": [1, 1000]}, "axis": {"orient": "top", "title": null, "labels": false, "values": [2,3,4,5,6,7,8,9,20,30,40,50,60,70,80,90,200,300,400,500,600,700,800,900], "tickSize": 7, "offset": -7, "tickColor": "#111111", "tickWidth": 1.7}},
           "y": {"field": "c", "type": "quantitative", "scale": {"domain": [0, 0.2], "nice": false, "zero": false}, "axis": {"orient": "right", "title": null, "labels": false, "values": [0.01,0.02,0.03,0.04,0.06,0.07,0.08,0.09,0.11,0.12,0.13,0.14,0.16,0.17,0.18,0.19], "tickSize": 7, "offset": -7, "tickColor": "#111111", "tickWidth": 1.7}},
           "detail": {"field": "curve", "type": "nominal"}}},
        {"data": {"values": [{}]}, "mark": {"type": "text", "fontSize": 40, "align": "right", "text": "c"}, "encoding": {"x": {"datum": 14.8, "type": "quantitative", "axis": null}, "y": {"datum": 0.1525, "type": "quantitative", "axis": null}}},
        {"data": {"values": [{}]}, "mark": {"type": "text", "fontSize": 22, "align": "left", "dx": 3, "dy": -20, "text": "(2,1)"}, "encoding": {"x": {"datum": 14.8, "type": "quantitative", "axis": null}, "y": {"datum": 0.1525, "type": "quantitative", "axis": null}}},
        {"data": {"values": [{}]}, "mark": {"type": "text", "fontSize": 22, "align": "left", "dx": 3, "dy": 7, "text": "2,g"}, "encoding": {"x": {"datum": 14.8, "type": "quantitative", "axis": null}, "y": {"datum": 0.1525, "type": "quantitative", "axis": null}}}
      ],
      "resolve": {"axis": {"x": "independent", "y": "independent"}}
    },
    {
      "width": 295, "height": 293,
      "transform": [{"filter": "datum.panel == 6"}],
      "layer": [
        {"mark": {"type": "line", "color": "#000000", "strokeWidth": 2}, "transform": [{"filter": "datum.curve == 'exact'"}],
         "encoding": {
           "x": {"field": "xi", "type": "quantitative", "scale": {"type": "log", "domain": [1, 1000]}, "axis": {"orient": "bottom", "title": null, "labels": false, "values": [1,10,100,1000], "tickSize": 13, "offset": -13, "tickColor": "#111111", "tickWidth": 1.7}},
           "y": {"field": "c", "type": "quantitative", "scale": {"domain": [-0.05, 0.01], "nice": false, "zero": false}, "axis": {"orient": "left", "title": null, "values": [-0.04,-0.02,0], "tickSize": 13, "offset": -13, "tickColor": "#111111", "tickWidth": 1.7, "labelPadding": 5, "labelExpr": "(datum.value < 0 ? '-' : '') + format(abs(datum.value), '~g')"}}}},
        {"mark": {"type": "line", "color": "#0000ff", "strokeWidth": 2}, "transform": [{"filter": "indexof(['asympt','asymptL','approx','approx2'], datum.curve) >= 0"}],
         "encoding": {
           "x": {"field": "xi", "type": "quantitative", "scale": {"type": "log", "domain": [1, 1000]}, "axis": {"orient": "bottom", "title": null, "labels": false, "values": [2,3,4,5,6,7,8,9,20,30,40,50,60,70,80,90,200,300,400,500,600,700,800,900], "tickSize": 7, "offset": -7, "tickColor": "#111111", "tickWidth": 1.7}},
           "y": {"field": "c", "type": "quantitative", "scale": {"domain": [-0.05, 0.01], "nice": false, "zero": false}, "axis": {"orient": "left", "title": null, "labels": false, "values": [-0.05,-0.045,-0.035,-0.03,-0.025,-0.015,-0.01,-0.005,0.005,0.01], "tickSize": 7, "offset": -7, "tickColor": "#111111", "tickWidth": 1.7}},
           "strokeDash": {"field": "curve", "type": "nominal", "legend": null, "scale": {"domain": ["asympt","asymptL","approx","approx2","quark","quarkCA","quarkCAL"], "range": [[9,5],[12,4],[2,3],[2,3],[1,0],[8,5],[12,4]]}}}},
        {"mark": {"type": "line", "color": "#00dd00", "strokeWidth": 1.3}, "transform": [{"filter": "indexof(['quark','quarkCA','quarkCAL'], datum.curve) >= 0"}],
         "encoding": {
           "x": {"field": "xi", "type": "quantitative", "scale": {"type": "log", "domain": [1, 1000]}, "axis": {"orient": "top", "title": null, "labels": false, "values": [1,10,100,1000], "tickSize": 13, "offset": -13, "tickColor": "#111111", "tickWidth": 1.7}},
           "y": {"field": "c", "type": "quantitative", "scale": {"domain": [-0.05, 0.01], "nice": false, "zero": false}, "axis": {"orient": "right", "title": null, "labels": false, "values": [-0.04,-0.02,0], "tickSize": 13, "offset": -13, "tickColor": "#111111", "tickWidth": 1.7}},
           "strokeDash": {"field": "curve", "type": "nominal", "legend": null, "scale": {"domain": ["asympt","asymptL","approx","approx2","quark","quarkCA","quarkCAL"], "range": [[9,5],[12,4],[2,3],[2,3],[1,0],[8,5],[12,4]]}}}},
        {"mark": {"type": "line", "color": "#ff0000", "strokeWidth": 4.5, "strokeCap": "round", "strokeDash": [0.1, 8]}, "transform": [{"filter": "datum.curve == 'model' || datum.curve == 'model2'"}],
         "encoding": {
           "x": {"field": "xi", "type": "quantitative", "scale": {"type": "log", "domain": [1, 1000]}, "axis": {"orient": "top", "title": null, "labels": false, "values": [2,3,4,5,6,7,8,9,20,30,40,50,60,70,80,90,200,300,400,500,600,700,800,900], "tickSize": 7, "offset": -7, "tickColor": "#111111", "tickWidth": 1.7}},
           "y": {"field": "c", "type": "quantitative", "scale": {"domain": [-0.05, 0.01], "nice": false, "zero": false}, "axis": {"orient": "right", "title": null, "labels": false, "values": [-0.05,-0.045,-0.035,-0.03,-0.025,-0.015,-0.01,-0.005,0.005,0.01], "tickSize": 7, "offset": -7, "tickColor": "#111111", "tickWidth": 1.7}},
           "detail": {"field": "curve", "type": "nominal"}}},
        {"data": {"values": [{}]}, "mark": {"type": "text", "fontSize": 40, "align": "right", "text": "c"}, "encoding": {"x": {"datum": 14.78, "type": "quantitative", "axis": null}, "y": {"datum": -0.00426, "type": "quantitative", "axis": null}}},
        {"data": {"values": [{}]}, "mark": {"type": "text", "fontSize": 22, "align": "left", "dx": 3, "dy": -20, "text": "(2,2)"}, "encoding": {"x": {"datum": 14.78, "type": "quantitative", "axis": null}, "y": {"datum": -0.00426, "type": "quantitative", "axis": null}}},
        {"data": {"values": [{}]}, "mark": {"type": "text", "fontSize": 22, "align": "left", "dx": 3, "dy": 7, "text": "2,g"}, "encoding": {"x": {"datum": 14.78, "type": "quantitative", "axis": null}, "y": {"datum": -0.00426, "type": "quantitative", "axis": null}}},
        {"data": {"values": [{}]}, "mark": {"type": "rule", "color": "#00dd00", "strokeWidth": 1.8}, "encoding": {"x": {"datum": 15.1, "type": "quantitative", "axis": null}, "x2": {"datum": 58.8}, "y": {"datum": -0.02859, "type": "quantitative", "axis": null}}},
        {"data": {"values": [{}]}, "mark": {"type": "rule", "color": "#00dd00", "strokeWidth": 1.3, "strokeDash": [8, 5]}, "encoding": {"x": {"datum": 15.1, "type": "quantitative", "axis": null}, "x2": {"datum": 58.8}, "y": {"datum": -0.03, "type": "quantitative", "axis": null}}},
        {"data": {"values": [{}]}, "mark": {"type": "text", "fontSize": 26, "align": "left", "dy": 5, "text": "quark"}, "encoding": {"x": {"datum": 79.7, "type": "quantitative", "axis": null}, "y": {"datum": -0.02859, "type": "quantitative", "axis": null}}},
        {"data": {"values": [{}]}, "mark": {"type": "text", "fontSize": 24, "align": "left", "dy": 30, "text": "·C"}, "encoding": {"x": {"datum": 79.7, "type": "quantitative", "axis": null}, "y": {"datum": -0.02859, "type": "quantitative", "axis": null}}},
        {"data": {"values": [{}]}, "mark": {"type": "text", "fontSize": 16, "align": "left", "dx": 22, "dy": 35, "text": "A"}, "encoding": {"x": {"datum": 79.7, "type": "quantitative", "axis": null}, "y": {"datum": -0.02859, "type": "quantitative", "axis": null}}},
        {"data": {"values": [{}]}, "mark": {"type": "text", "fontSize": 24, "align": "left", "dx": 36, "dy": 30, "text": "/"}, "encoding": {"x": {"datum": 79.7, "type": "quantitative", "axis": null}, "y": {"datum": -0.02859, "type": "quantitative", "axis": null}}},
        {"data": {"values": [{}]}, "mark": {"type": "text", "fontSize": 24, "align": "left", "dx": 49, "dy": 30, "text": "C"}, "encoding": {"x": {"datum": 79.7, "type": "quantitative", "axis": null}, "y": {"datum": -0.02859, "type": "quantitative", "axis": null}}},
        {"data": {"values": [{}]}, "mark": {"type": "text", "fontSize": 16, "align": "left", "dx": 65, "dy": 35, "text": "F"}, "encoding": {"x": {"datum": 79.7, "type": "quantitative", "axis": null}, "y": {"datum": -0.02859, "type": "quantitative", "axis": null}}}
      ],
      "resolve": {"axis": {"x": "independent", "y": "independent"}}
    },
    {
      "width": 295, "height": 293,
      "transform": [{"filter": "datum.panel == 7"}],
      "layer": [
        {"mark": {"type": "line", "color": "#000000", "strokeWidth": 2}, "transform": [{"filter": "datum.curve == 'exact'"}],
         "encoding": {
           "x": {"field": "xi", "type": "quantitative", "scale": {"type": "log", "domain": [1, 1000]}, "axis": {"orient": "bottom", "title": null, "values": [1,10,100,1000], "tickSize": 13, "offset": -13, "tickColor": "#111111", "tickWidth": 1.7, "labelPadding": 19, "labelExpr": "datum.value == 1 ? '1' : datum.value == 10 ? '10' : datum.value == 100 ? '10²' : '10³'"}},
           "y": {"field": "c", "type": "quantitative", "scale": {"domain": [-0.25, 0.05], "nice": false, "zero": false}, "axis": {"orient": "left", "title": null, "values": [-0.2,-0.1,0], "tickSize": 13, "offset": -13, "tickColor": "#111111", "tickWidth": 1.7, "labelPadding": 8, "labelExpr": "(datum.value < 0 ? '-' : '') + format(abs(datum.value), '~g')"}}}},
        {"mark": {"type": "line", "color": "#0000ff", "strokeWidth": 2}, "transform": [{"filter": "indexof(['asympt','asymptL','approx','approx2'], datum.curve) >= 0"}],
         "encoding": {
           "x": {"field": "xi", "type": "quantitative", "scale": {"type": "log", "domain": [1, 1000]}, "axis": {"orient": "bottom", "title": null, "labels": false, "values": [2,3,4,5,6,7,8,9,20,30,40,50,60,70,80,90,200,300,400,500,600,700,800,900], "tickSize": 7, "offset": -7, "tickColor": "#111111", "tickWidth": 1.7}},
           "y": {"field": "c", "type": "quantitative", "scale": {"domain": [-0.25, 0.05], "nice": false, "zero": false}, "axis": {"orient": "left", "title": null, "labels": false, "values": [-0.24,-0.22,-0.18,-0.16,-0.14,-0.12,-0.08,-0.06,-0.04,-0.02,0.02,0.04], "tickSize": 7, "offset": -7, "tickColor": "#111111", "tickWidth": 1.7}},
           "strokeDash": {"field": "curve", "type": "nominal", "legend": null, "scale": {"domain": ["asympt","asymptL","approx","approx2","quark","quarkCA","quarkCAL"], "range": [[9,5],[12,4],[2,3],[2,3],[1,0],[8,5],[12,4]]}}}},
        {"mark": {"type": "line", "color": "#00dd00", "strokeWidth": 1.3}, "transform": [{"filter": "indexof(['quark','quarkCA','quarkCAL'], datum.curve) >= 0"}],
         "encoding": {
           "x": {"field": "xi", "type": "quantitative", "scale": {"type": "log", "domain": [1, 1000]}, "axis": {"orient": "top", "title": null, "labels": false, "values": [1,10,100,1000], "tickSize": 13, "offset": -13, "tickColor": "#111111", "tickWidth": 1.7}},
           "y": {"field": "c", "type": "quantitative", "scale": {"domain": [-0.25, 0.05], "nice": false, "zero": false}, "axis": {"orient": "right", "title": null, "labels": false, "values": [-0.2,-0.1,0], "tickSize": 13, "offset": -13, "tickColor": "#111111", "tickWidth": 1.7}},
           "strokeDash": {"field": "curve", "type": "nominal", "legend": null, "scale": {"domain": ["asympt","asymptL","approx","approx2","quark","quarkCA","quarkCAL"], "range": [[9,5],[12,4],[2,3],[2,3],[1,0],[8,5],[12,4]]}}}},
        {"mark": {"type": "line", "color": "#ff0000", "strokeWidth": 4.5, "strokeCap": "round", "strokeDash": [0.1, 8]}, "transform": [{"filter": "datum.curve == 'model' || datum.curve == 'model2'"}],
         "encoding": {
           "x": {"field": "xi", "type": "quantitative", "scale": {"type": "log", "domain": [1, 1000]}, "axis": {"orient": "top", "title": null, "labels": false, "values": [2,3,4,5,6,7,8,9,20,30,40,50,60,70,80,90,200,300,400,500,600,700,800,900], "tickSize": 7, "offset": -7, "tickColor": "#111111", "tickWidth": 1.7}},
           "y": {"field": "c", "type": "quantitative", "scale": {"domain": [-0.25, 0.05], "nice": false, "zero": false}, "axis": {"orient": "right", "title": null, "labels": false, "values": [-0.24,-0.22,-0.18,-0.16,-0.14,-0.12,-0.08,-0.06,-0.04,-0.02,0.02,0.04], "tickSize": 7, "offset": -7, "tickColor": "#111111", "tickWidth": 1.7}},
           "detail": {"field": "curve", "type": "nominal"}}},
        {"data": {"values": [{}]}, "mark": {"type": "text", "fontSize": 40, "align": "right", "text": "c"}, "encoding": {"x": {"datum": 46.2, "type": "quantitative", "axis": null}, "y": {"datum": -0.0213, "type": "quantitative", "axis": null}}},
        {"data": {"values": [{}]}, "mark": {"type": "text", "fontSize": 40, "align": "center", "dx": -30, "text": ":"}, "encoding": {"x": {"datum": 46.2, "type": "quantitative", "axis": null}, "y": {"datum": -0.0213, "type": "quantitative", "axis": null}}},
        {"data": {"values": [{}]}, "mark": {"type": "text", "fontSize": 22, "align": "left", "dx": -51, "dy": -19, "text": "0"}, "encoding": {"x": {"datum": 46.2, "type": "quantitative", "axis": null}, "y": {"datum": -0.0213, "type": "quantitative", "axis": null}}},
        {"data": {"values": [{}]}, "mark": {"type": "text", "fontSize": 40, "align": "right", "dx": -52, "text": "η"}, "encoding": {"x": {"datum": 46.2, "type": "quantitative", "axis": null}, "y": {"datum": -0.0213, "type": "quantitative", "axis": null}}},
        {"data": {"values": [{}]}, "mark": {"type": "text", "fontSize": 22, "align": "left", "dx": 3, "dy": -20, "text": "(2,0)"}, "encoding": {"x": {"datum": 46.2, "type": "quantitative", "axis": null}, "y": {"datum": -0.0213, "type": "quantitative", "axis": null}}},
        {"data": {"values": [{}]}, "mark": {"type": "text", "fontSize": 22, "align": "left", "dx": 3, "dy": 7, "text": "2,q"}, "encoding": {"x": {"datum": 46.2, "type": "quantitative", "axis": null}, "y": {"datum": -0.0213, "type": "quantitative", "axis": null}}},
        {"data": {"values": [{}]}, "mark": {"type": "rule", "color": "#ff0000", "strokeWidth": 4.5, "strokeCap": "round", "strokeDash": [0.1, 8]}, "encoding": {"x": {"datum": 26.3, "type": "quantitative", "axis": null}, "x2": {"datum": 70.4}, "y": {"datum": -0.1296, "type": "quantitative", "axis": null}}},
        {"data": {"values": [{}]}, "mark": {"type": "text", "fontSize": 26, "align": "left", "dy": 10, "text": "low-ξ"}, "encoding": {"x": {"datum": 100, "type": "quantitative", "axis": null}, "y": {"datum": -0.1296, "type": "quantitative", "axis": null}}},
        {"data": {"values": [{}]}, "mark": {"type": "text", "fontSize": 26, "align": "left", "dy": 39, "text": "model"}, "encoding": {"x": {"datum": 100, "type": "quantitative", "axis": null}, "y": {"datum": -0.1296, "type": "quantitative", "axis": null}}},
        {"data": {"values": [{}]}, "mark": {"type": "rule", "color": "#0000ff", "strokeWidth": 2, "strokeDash": [10, 6]}, "encoding": {"x": {"datum": 24.6, "type": "quantitative", "axis": null}, "x2": {"datum": 67.2}, "y": {"datum": -0.2125, "type": "quantitative", "axis": null}}},
        {"data": {"values": [{}]}, "mark": {"type": "text", "fontSize": 26, "align": "left", "dy": 7, "text": "asympt."}, "encoding": {"x": {"datum": 79.2, "type": "quantitative", "axis": null}, "y": {"datum": -0.2125, "type": "quantitative", "axis": null}}}
      ],
      "resolve": {"axis": {"x": "independent", "y": "independent"}}
    },
    {
      "width": 295, "height": 293,
      "transform": [{"filter": "datum.panel == 8"}],
      "layer": [
        {"mark": {"type": "line", "color": "#000000", "strokeWidth": 2}, "transform": [{"filter": "datum.curve == 'exact'"}],
         "encoding": {
           "x": {"field": "xi", "type": "quantitative", "scale": {"type": "log", "domain": [1, 1000]}, "axis": {"orient": "bottom", "title": null, "values": [1,10,100,1000], "tickSize": 13, "offset": -13, "tickColor": "#111111", "tickWidth": 1.7, "labelPadding": 19, "labelExpr": "datum.value == 1 ? '1' : datum.value == 10 ? '10' : datum.value == 100 ? '10²' : '10³'"}},
           "y": {"field": "c", "type": "quantitative", "scale": {"domain": [0, 0.09], "nice": false, "zero": false}, "axis": {"orient": "left", "title": null, "values": [0,0.02,0.04,0.06,0.08], "tickSize": 13, "offset": -13, "tickColor": "#111111", "tickWidth": 1.7, "labelPadding": 4, "labelExpr": "(datum.value < 0 ? '-' : '') + format(abs(datum.value), '~g')"}}}},
        {"mark": {"type": "line", "color": "#0000ff", "strokeWidth": 2}, "transform": [{"filter": "indexof(['asympt','asymptL','approx','approx2'], datum.curve) >= 0"}],
         "encoding": {
           "x": {"field": "xi", "type": "quantitative", "scale": {"type": "log", "domain": [1, 1000]}, "axis": {"orient": "bottom", "title": null, "labels": false, "values": [2,3,4,5,6,7,8,9,20,30,40,50,60,70,80,90,200,300,400,500,600,700,800,900], "tickSize": 7, "offset": -7, "tickColor": "#111111", "tickWidth": 1.7}},
           "y": {"field": "c", "type": "quantitative", "scale": {"domain": [0, 0.09], "nice": false, "zero": false}, "axis": {"orient": "left", "title": null, "labels": false, "values": [0.005,0.01,0.015,0.025,0.03,0.035,0.045,0.05,0.055,0.065,0.07,0.075,0.085,0.09], "tickSize": 7, "offset": -7, "tickColor": "#111111", "tickWidth": 1.7}},
           "strokeDash": {"field": "curve", "type": "nominal", "legend": null, "scale": {"domain": ["asympt","asymptL","approx","approx2","quark","quarkCA","quarkCAL"], "range": [[9,5],[12,4],[2,3],[2,3],[1,0],[8,5],[12,4]]}}}},
        {"mark": {"type": "line", "color": "#00dd00", "strokeWidth": 1.3}, "transform": [{"filter": "indexof(['quark','quarkCA','quarkCAL'], datum.curve) >= 0"}],
         "encoding": {
           "x": {"field": "xi", "type": "quantitative", "scale": {"type": "log", "domain": [1, 1000]}, "axis": {"orient": "top", "title": null, "labels": false, "values": [1,10,100,1000], "tickSize": 13, "offset": -13, "tickColor": "#111111", "tickWidth": 1.7}},
           "y": {"field": "c", "type": "quantitative", "scale": {"domain": [0, 0.09], "nice": false, "zero": false}, "axis": {"orient": "right", "title": null, "labels": false, "values": [0,0.02,0.04,0.06,0.08], "tickSize": 13, "offset": -13, "tickColor": "#111111", "tickWidth": 1.7}},
           "strokeDash": {"field": "curve", "type": "nominal", "legend": null, "scale": {"domain": ["asympt","asymptL","approx","approx2","quark","quarkCA","quarkCAL"], "range": [[9,5],[12,4],[2,3],[2,3],[1,0],[8,5],[12,4]]}}}},
        {"mark": {"type": "line", "color": "#ff0000", "strokeWidth": 4.5, "strokeCap": "round", "strokeDash": [0.1, 8]}, "transform": [{"filter": "datum.curve == 'model' || datum.curve == 'model2'"}],
         "encoding": {
           "x": {"field": "xi", "type": "quantitative", "scale": {"type": "log", "domain": [1, 1000]}, "axis": {"orient": "top", "title": null, "labels": false, "values": [2,3,4,5,6,7,8,9,20,30,40,50,60,70,80,90,200,300,400,500,600,700,800,900], "tickSize": 7, "offset": -7, "tickColor": "#111111", "tickWidth": 1.7}},
           "y": {"field": "c", "type": "quantitative", "scale": {"domain": [0, 0.09], "nice": false, "zero": false}, "axis": {"orient": "right", "title": null, "labels": false, "values": [0.005,0.01,0.015,0.025,0.03,0.035,0.045,0.05,0.055,0.065,0.07,0.075,0.085,0.09], "tickSize": 7, "offset": -7, "tickColor": "#111111", "tickWidth": 1.7}},
           "detail": {"field": "curve", "type": "nominal"}}},
        {"data": {"values": [{}]}, "mark": {"type": "text", "fontSize": 40, "align": "right", "text": "c"}, "encoding": {"x": {"datum": 14.8, "type": "quantitative", "axis": null}, "y": {"datum": 0.0686, "type": "quantitative", "axis": null}}},
        {"data": {"values": [{}]}, "mark": {"type": "text", "fontSize": 22, "align": "left", "dx": 3, "dy": -20, "text": "(2,1)"}, "encoding": {"x": {"datum": 14.8, "type": "quantitative", "axis": null}, "y": {"datum": 0.0686, "type": "quantitative", "axis": null}}},
        {"data": {"values": [{}]}, "mark": {"type": "text", "fontSize": 22, "align": "left", "dx": 3, "dy": 7, "text": "2,q"}, "encoding": {"x": {"datum": 14.8, "type": "quantitative", "axis": null}, "y": {"datum": 0.0686, "type": "quantitative", "axis": null}}}
      ],
      "resolve": {"axis": {"x": "independent", "y": "independent"}}
    },
    {
      "width": 295, "height": 293,
      "transform": [{"filter": "datum.panel == 9"}],
      "layer": [
        {"mark": {"type": "line", "color": "#000000", "strokeWidth": 2}, "transform": [{"filter": "datum.curve == 'exact'"}],
         "encoding": {
           "x": {"field": "xi", "type": "quantitative", "scale": {"type": "log", "domain": [1, 1000]}, "axis": {"orient": "bottom", "title": "ξ", "titleFontSize": 30, "titleX": 292, "titleY": 71, "titleAlign": "right", "titleBaseline": "alphabetic", "values": [1,10,100,1000], "tickSize": 13, "offset": -13, "tickColor": "#111111", "tickWidth": 1.7, "labelPadding": 19, "labelExpr": "datum.value == 1 ? '1' : datum.value == 10 ? '10' : datum.value == 100 ? '10²' : '10³'"}},
           "y": {"field": "c", "type": "quantitative", "scale": {"domain": [-0.025, 0.005], "nice": false, "zero": false}, "axis": {"orient": "left", "title": null, "values": [-0.02,-0.01,0], "tickSize": 13, "offset": -13, "tickColor": "#111111", "tickWidth": 1.7, "labelPadding": 5, "labelExpr": "(datum.value < 0 ? '-' : '') + format(abs(datum.value), '~g')"}}}},
        {"mark": {"type": "line", "color": "#0000ff", "strokeWidth": 2}, "transform": [{"filter": "indexof(['asympt','asymptL','approx','approx2'], datum.curve) >= 0"}],
         "encoding": {
           "x": {"field": "xi", "type": "quantitative", "scale": {"type": "log", "domain": [1, 1000]}, "axis": {"orient": "bottom", "title": null, "labels": false, "values": [2,3,4,5,6,7,8,9,20,30,40,50,60,70,80,90,200,300,400,500,600,700,800,900], "tickSize": 7, "offset": -7, "tickColor": "#111111", "tickWidth": 1.7}},
           "y": {"field": "c", "type": "quantitative", "scale": {"domain": [-0.025, 0.005], "nice": false, "zero": false}, "axis": {"orient": "left", "title": null, "labels": false, "values": [-0.024,-0.022,-0.018,-0.016,-0.014,-0.012,-0.008,-0.006,-0.004,-0.002,0.002,0.004], "tickSize": 7, "offset": -7, "tickColor": "#111111", "tickWidth": 1.7}},
           "strokeDash": {"field": "curve", "type": "nominal", "legend": null, "scale": {"domain": ["asympt","asymptL","approx","approx2","quark","quarkCA","quarkCAL"], "range": [[9,5],[12,4],[2,3],[2,3],[1,0],[8,5],[12,4]]}}}},
        {"mark": {"type": "line", "color": "#00dd00", "strokeWidth": 1.3}, "transform": [{"filter": "indexof(['quark','quarkCA','quarkCAL'], datum.curve) >= 0"}],
         "encoding": {
           "x": {"field": "xi", "type": "quantitative", "scale": {"type": "log", "domain": [1, 1000]}, "axis": {"orient": "top", "title": null, "labels": false, "values": [1,10,100,1000], "tickSize": 13, "offset": -13, "tickColor": "#111111", "tickWidth": 1.7}},
           "y": {"field": "c", "type": "quantitative", "scale": {"domain": [-0.025, 0.005], "nice": false, "zero": false}, "axis": {"orient": "right", "title": null, "labels": false, "values": [-0.02,-0.01,0], "tickSize": 13, "offset": -13, "tickColor": "#111111", "tickWidth": 1.7}},
           "strokeDash": {"field": "curve", "type": "nominal", "legend": null, "scale": {"domain": ["asympt","asymptL","approx","approx2","quark","quarkCA","quarkCAL"], "range": [[9,5],[12,4],[2,3],[2,3],[1,0],[8,5],[12,4]]}}}},
        {"mark": {"type": "line", "color": "#ff0000", "strokeWidth": 4.5, "strokeCap": "round", "strokeDash": [0.1, 8]}, "transform": [{"filter": "datum.curve == 'model' || datum.curve == 'model2'"}],
         "encoding": {
           "x": {"field": "xi", "type": "quantitative", "scale": {"type": "log", "domain": [1, 1000]}, "axis": {"orient": "top", "title": null, "labels": false, "values": [2,3,4,5,6,7,8,9,20,30,40,50,60,70,80,90,200,300,400,500,600,700,800,900], "tickSize": 7, "offset": -7, "tickColor": "#111111", "tickWidth": 1.7}},
           "y": {"field": "c", "type": "quantitative", "scale": {"domain": [-0.025, 0.005], "nice": false, "zero": false}, "axis": {"orient": "right", "title": null, "labels": false, "values": [-0.024,-0.022,-0.018,-0.016,-0.014,-0.012,-0.008,-0.006,-0.004,-0.002,0.002,0.004], "tickSize": 7, "offset": -7, "tickColor": "#111111", "tickWidth": 1.7}},
           "detail": {"field": "curve", "type": "nominal"}}},
        {"data": {"values": [{}]}, "mark": {"type": "text", "fontSize": 40, "align": "right", "text": "c"}, "encoding": {"x": {"datum": 14.78, "type": "quantitative", "axis": null}, "y": {"datum": -0.00213, "type": "quantitative", "axis": null}}},
        {"data": {"values": [{}]}, "mark": {"type": "text", "fontSize": 22, "align": "left", "dx": 3, "dy": -20, "text": "(2,2)"}, "encoding": {"x": {"datum": 14.78, "type": "quantitative", "axis": null}, "y": {"datum": -0.00213, "type": "quantitative", "axis": null}}},
        {"data": {"values": [{}]}, "mark": {"type": "text", "fontSize": 22, "align": "left", "dx": 3, "dy": 7, "text": "2,q"}, "encoding": {"x": {"datum": 14.78, "type": "quantitative", "axis": null}, "y": {"datum": -0.00213, "type": "quantitative", "axis": null}}}
      ],
      "resolve": {"axis": {"x": "independent", "y": "independent"}}
    }
  ]
}
